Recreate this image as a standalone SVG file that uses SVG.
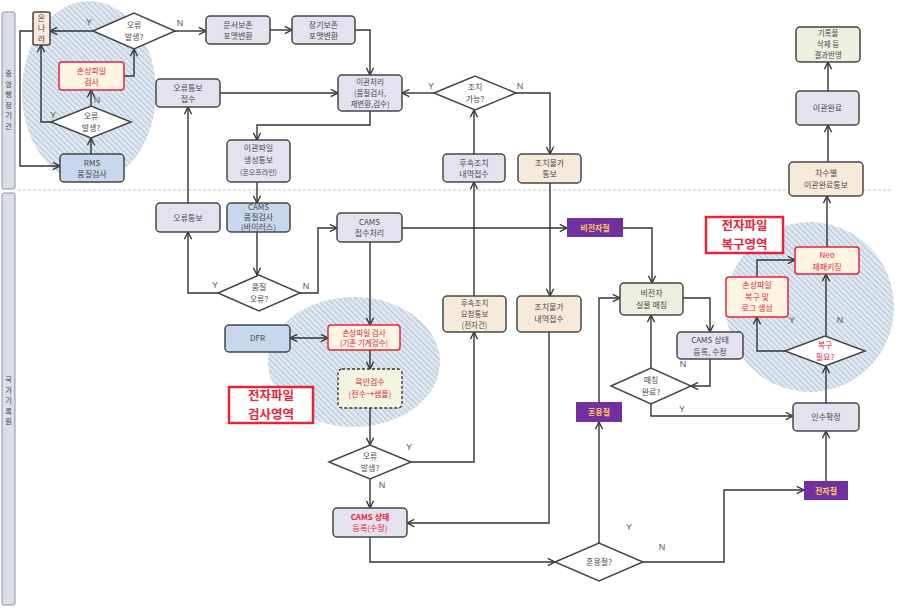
<svg xmlns="http://www.w3.org/2000/svg" width="904" height="609" viewBox="0 0 904 609">
<style>
.t{font-family:"Noto Sans CJK KR","Noto Sans",sans-serif;font-size:8px;fill:#4a4a4a;text-anchor:middle}
.s{font-size:7.5px}
.r{fill:#e4243a}
.yn{font-family:"Liberation Sans",sans-serif;font-size:9px;fill:#555;text-anchor:middle}
.b{stroke:#454545;stroke-width:1.5}
.lav{fill:#e5e2ef}
.bei{fill:#f8eadb}
.blu{fill:#c6d7ee}
.grn{fill:#eaefdf}
.red{fill:#fdf5e2;stroke:#e4243a;stroke-width:1.5}
.pur{fill:#7030a0}
.pt{font-family:"Noto Sans CJK KR",sans-serif;font-size:8px;font-weight:bold;fill:#ffc95a;text-anchor:middle}
.dia{fill:#ffffff;stroke:#454545;stroke-width:1.5}
.big{font-family:"Noto Sans CJK KR",sans-serif;font-size:12.5px;font-weight:bold;fill:#e4243a;text-anchor:middle}
.lane{fill:#dcdde6;stroke:#8b93ad;stroke-width:1}
.lt{font-family:"Noto Sans CJK KR",sans-serif;font-size:7.2px;fill:#444;text-anchor:middle}
#connectors path{fill:none;stroke:#333;stroke-width:1.4}
</style>
<defs>
<marker id="a" viewBox="0 0 10 10" refX="9" refY="5" markerWidth="9" markerHeight="9" orient="auto-start-reverse" markerUnits="userSpaceOnUse">
<path d="M1,1 L9,5 L1,9" fill="none" stroke="#333" stroke-width="1.5"/>
</marker>
<pattern id="hatch" width="4" height="4" patternUnits="userSpaceOnUse" patternTransform="rotate(-45)">
<rect width="4" height="4" fill="#dfe7f1"/>
<line x1="0" y1="0" x2="0" y2="4" stroke="#9db2cb" stroke-width="1.3"/>
</pattern>
</defs>
<rect width="904" height="609" fill="#ffffff"/>

<g id="lanes">
<rect class="lane" x="2" y="12" width="13" height="177" rx="2"/>
<text class="lt"><tspan x="8.5" y="76">중</tspan><tspan x="8.5" y="86.5">앙</tspan><tspan x="8.5" y="97">행</tspan><tspan x="8.5" y="107.5">정</tspan><tspan x="8.5" y="118">기</tspan><tspan x="8.5" y="128.5">관</tspan></text>
<rect class="lane" x="2" y="193" width="13" height="412" rx="2"/>
<text class="lt"><tspan x="8.5" y="382">국</tspan><tspan x="8.5" y="392.5">가</tspan><tspan x="8.5" y="403">기</tspan><tspan x="8.5" y="413.5">록</tspan><tspan x="8.5" y="424">원</tspan></text>
<line x1="18" y1="190" x2="892" y2="190" stroke="#c4c4c4" stroke-width="1" stroke-dasharray="3,2"/>
</g>

<g id="areas">
<ellipse cx="89" cy="92" rx="67" ry="91" fill="url(#hatch)"/>
<ellipse cx="354" cy="362" rx="86" ry="65" fill="url(#hatch)"/>
<ellipse cx="810" cy="307" rx="84" ry="85" fill="url(#hatch)"/>
</g>

<g id="connectors">
<path d="M93,31 L50,31" marker-end="url(#a)"/>
<path d="M175,31 L206,31" marker-end="url(#a)"/>
<path d="M124,76 L134,76 L134,49" marker-end="url(#a)"/>
<path d="M91,106 L91,90" marker-end="url(#a)"/>
<path d="M51,122 L41,122 L41,45" marker-end="url(#a)"/>
<path d="M33,31 L20,31 L20,166 L60,166" marker-end="url(#a)"/>
<path d="M91,154 L91,138" marker-end="url(#a)"/>
<path d="M270,30 L292,30" marker-end="url(#a)"/>
<path d="M355,30 L370,30 L370,75" marker-end="url(#a)"/>
<path d="M220,93 L338,93" marker-end="url(#a)"/>
<path d="M370,111 L370,125 L257,125 L257,140" marker-end="url(#a)"/>
<path d="M257,182 L257,203" marker-end="url(#a)"/>
<path d="M434,93 L402,93" marker-end="url(#a)"/>
<path d="M516,93 L550,93 L550,154" marker-end="url(#a)"/>
<path d="M474,154 L474,110" marker-end="url(#a)"/>
<path d="M474,296 L474,182" marker-end="url(#a)"/>
<path d="M550,183 L550,296" marker-end="url(#a)"/>
<path d="M828,162 L828,125" marker-end="url(#a)"/>
<path d="M828,91 L828,62" marker-end="url(#a)"/>
<path d="M188,203 L188,107" marker-end="url(#a)"/>
<path d="M257,232 L257,275" marker-end="url(#a)"/>
<path d="M218,293 L188,293 L188,232" marker-end="url(#a)"/>
<path d="M300,293 L318,293 L318,228 L337,228" marker-end="url(#a)"/>
<path d="M402,228 L567,228" marker-end="url(#a)"/>
<path d="M623,228 L652,228 L652,283" marker-end="url(#a)"/>
<path d="M370,242 L370,325" marker-end="url(#a)"/>
<path d="M290,338 L328,338" marker-start="url(#a)" marker-end="url(#a)"/>
<path d="M370,350 L370,369" marker-end="url(#a)"/>
<path d="M370,408 L370,445" marker-end="url(#a)"/>
<path d="M411,462 L474,462 L474,332" marker-end="url(#a)"/>
<path d="M370,479 L370,508" marker-end="url(#a)"/>
<path d="M549,332 L549,523 L407,523" marker-end="url(#a)"/>
<path d="M370,537 L370,562 L555,562" marker-end="url(#a)"/>
<path d="M599,543 L599,422" marker-end="url(#a)"/>
<path d="M599,402 L599,298 L620,298" marker-end="url(#a)"/>
<path d="M683,298 L710,298 L710,332" marker-end="url(#a)"/>
<path d="M710,359 L710,386 L691,386" marker-end="url(#a)"/>
<path d="M651,368 L651,315" marker-end="url(#a)"/>
<path d="M651,404 L651,416 L793,416" marker-end="url(#a)"/>
<path d="M643,562 L724,562 L724,490 L804,490" marker-end="url(#a)"/>
<path d="M826,481 L826,431" marker-end="url(#a)"/>
<path d="M826,403 L826,366" marker-end="url(#a)"/>
<path d="M785,351 L757,351 L757,317" marker-end="url(#a)"/>
<path d="M826,336 L826,274" marker-end="url(#a)"/>
<path d="M757,277 L757,260 L795,260" marker-end="url(#a)"/>
<path d="M827,247 L827,196" marker-end="url(#a)"/>
<text class="yn" x="89" y="25">Y</text>
<text class="yn" x="180" y="26">N</text>
<text class="yn" x="97" y="103" font-size="7">N</text>
<text class="yn" x="53" y="118">Y</text>
<text class="yn" x="431" y="89">Y</text>
<text class="yn" x="520" y="89">N</text>
<text class="yn" x="215" y="288">Y</text>
<text class="yn" x="306" y="289">N</text>
<text class="yn" x="409" y="450">Y</text>
<text class="yn" x="382" y="488">N</text>
<text class="yn" x="629" y="530">Y</text>
<text class="yn" x="662" y="550">N</text>
<text class="yn" x="683" y="367">N</text>
<text class="yn" x="682" y="412">Y</text>
<text class="yn" x="792" y="323">Y</text>
<text class="yn" x="840" y="323">N</text>
</g>

<g id="onnara"><rect class="b bei" x="33" y="12" width="17" height="33" rx="2"/><text class="t" font-size="7.2"><tspan x="41.5" y="20.5">온</tspan><tspan x="41.5" y="31">나</tspan><tspan x="41.5" y="41.5">라</tspan></text></g>
<g id="d_err1"><polygon class="dia" points="93,31 134,13 175,31 134,49"/><text class="t"><tspan x="134" y="28">오류</tspan><tspan x="134" y="39.6">발생?</tspan></text></g>
<g id="chk1"><rect class="red" x="59" y="62" width="65" height="28" rx="3"/><text class="t r"><tspan x="91.5" y="73.5">손상파일</tspan><tspan x="91.5" y="85">검사</tspan></text></g>
<g id="d_err2"><polygon class="dia" points="51,122 91,106 131,122 91,138"/><text class="t"><tspan x="91" y="119">오류</tspan><tspan x="91" y="130.6">발생?</tspan></text></g>
<g id="rms"><rect class="b blu" x="60" y="154" width="64" height="28" rx="4"/><text class="t"><tspan x="92" y="165.5">RMS</tspan><tspan x="92" y="177">품질검사</tspan></text></g>
<g id="fmt1"><rect class="b lav" x="206" y="16" width="64" height="28" rx="4"/><text class="t"><tspan x="238" y="27.5">문서보존</tspan><tspan x="238" y="39">포맷변환</tspan></text></g>
<g id="fmt2"><rect class="b lav" x="292" y="16" width="63" height="28" rx="4"/><text class="t"><tspan x="323.5" y="27.5">장기보존</tspan><tspan x="323.5" y="39">포맷변환</tspan></text></g>
<g id="proc"><rect class="b lav" x="338" y="75" width="64" height="36" rx="4"/><text class="t s"><tspan x="370" y="84.7">이관처리</tspan><tspan x="370" y="95.6">(품질검사,</tspan><tspan x="370" y="106.5">재변환,검수)</tspan></text></g>
<g id="errrecv"><rect class="b lav" x="156" y="79" width="64" height="28" rx="4"/><text class="t"><tspan x="188" y="90.5">오류통보</tspan><tspan x="188" y="102">접수</tspan></text></g>
<g id="gen"><rect class="b lav" x="227" y="140" width="63" height="42" rx="4"/><text class="t"><tspan x="258.5" y="151.4">이관파일</tspan><tspan x="258.5" y="163">생성통보</tspan><tspan x="258.5" y="174.6" font-size="7">(온오프라인)</tspan></text></g>
<g id="d_act"><polygon class="dia" points="434,93 475,76 516,93 475,110"/><text class="t"><tspan x="475" y="90">조치</tspan><tspan x="475" y="101.6">가능?</tspan></text></g>
<g id="follow1"><rect class="b lav" x="443" y="154" width="62" height="28" rx="4"/><text class="t"><tspan x="474" y="165.5">후속조치</tspan><tspan x="474" y="177">내역접수</tspan></text></g>
<g id="noact"><rect class="b bei" x="518" y="154" width="63" height="29" rx="4"/><text class="t"><tspan x="549.5" y="165.5">조치불가</tspan><tspan x="549.5" y="177">통보</tspan></text></g>
<g id="result"><rect class="b grn" x="796" y="27" width="64" height="35" rx="4"/><text class="t s"><tspan x="828" y="36.2">기록물</tspan><tspan x="828" y="47.1">삭제 등</tspan><tspan x="828" y="58">결과반영</tspan></text></g>
<g id="done"><rect class="b lav" x="796" y="91" width="63" height="34" rx="4"/><text class="t"><tspan x="827.5" y="111">이관완료</tspan></text></g>
<g id="notice"><rect class="b bei" x="789" y="162" width="74" height="34" rx="4"/><text class="t"><tspan x="826" y="176">차수별</tspan><tspan x="826" y="187.5">이관완료통보</tspan></text></g>
<g id="errnote"><rect class="b lav" x="156" y="203" width="64" height="29" rx="4"/><text class="t"><tspan x="188" y="220.5">오류통보</tspan></text></g>
<g id="camsq"><rect class="b blu" x="227" y="203" width="63" height="29" rx="4"/><text class="t" font-size="7"><tspan x="258.5" y="210">CAMS</tspan><tspan x="258.5" y="220.2">품질검사</tspan><tspan x="258.5" y="230.4">(바이러스)</tspan></text></g>
<g id="d_q"><polygon class="dia" points="218,293 259,275 300,293 259,311"/><text class="t"><tspan x="259" y="290">품질</tspan><tspan x="259" y="301.6">오류?</tspan></text></g>
<g id="camsr"><rect class="b lav" x="337" y="213" width="65" height="29" rx="4"/><text class="t"><tspan x="369.5" y="224.5">CAMS</tspan><tspan x="369.5" y="236">접수처리</tspan></text></g>
<g id="nonelec"><rect class="pur" x="567" y="218" width="56" height="19"/><text class="pt" x="595" y="231">비전자철</text></g>
<g id="match"><rect class="b grn" x="620" y="283" width="63" height="32" rx="4"/><text class="t"><tspan x="651.5" y="296">비전자</tspan><tspan x="651.5" y="307.5">실물 매칭</tspan></text></g>
<g id="dfr"><rect class="b blu" x="225" y="325" width="65" height="27" rx="4"/><text class="t" x="257.5" y="341">DFR</text></g>
<g id="chk2"><rect class="red" x="328" y="325" width="72" height="25" rx="3"/><text class="t r s"><tspan x="364" y="335.5">손상파일 검사</tspan><tspan x="364" y="346.4">(기존 기계검수)</tspan></text></g>
<g id="eye"><rect x="338" y="369" width="64" height="39" rx="4" fill="#f3f4df" stroke="#333" stroke-width="1.3" stroke-dasharray="3,2"/><text class="t r"><tspan x="370" y="385">육안검수</tspan><tspan x="370" y="397">(전수→샘플)</tspan></text></g>
<g id="lbl1"><rect x="229" y="387" width="84" height="36" fill="#ffffff" stroke="#e4243a" stroke-width="2.5"/><text class="big"><tspan x="271" y="400.3">전자파일</tspan><tspan x="271" y="418.5">검사영역</tspan></text></g>
<g id="d_err3"><polygon class="dia" points="329,462 370,445 411,462 370,479"/><text class="t"><tspan x="370" y="459">오류</tspan><tspan x="370" y="470.6">발생?</tspan></text></g>
<g id="camsst"><rect class="b lav" x="333" y="508" width="74" height="29" rx="4"/><text class="t r"><tspan x="370" y="519.5" font-weight="bold">CAMS 상태</tspan><tspan x="370" y="531">등록(수정)</tspan></text></g>
<g id="follow2"><rect class="b bei" x="443" y="296" width="63" height="36" rx="4"/><text class="t s"><tspan x="474.5" y="305.7">후속조치</tspan><tspan x="474.5" y="316.6">요청통보</tspan><tspan x="474.5" y="327.5">(전자건)</tspan></text></g>
<g id="noact2"><rect class="b bei" x="517" y="296" width="64" height="36" rx="4"/><text class="t"><tspan x="549" y="310">조치불가</tspan><tspan x="549" y="321.6">내역접수</tspan></text></g>
<g id="d_mix"><polygon class="dia" points="555,562 599,543 643,562 599,581"/><text class="t" x="599" y="565">혼용철?</text></g>
<g id="mix"><rect class="pur" x="576" y="402" width="46" height="20"/><text class="pt" x="599" y="415">혼용철</text></g>
<g id="camsst2"><rect class="b lav" x="677" y="332" width="66" height="27" rx="4"/><text class="t"><tspan x="710" y="343">CAMS 상태</tspan><tspan x="710" y="354.6">등록, 수정</tspan></text></g>
<g id="d_match"><polygon class="dia" points="611,386 651,368 691,386 651,404"/><text class="t"><tspan x="651" y="383">매칭</tspan><tspan x="651" y="394.6">완료?</tspan></text></g>
<g id="accept"><rect class="b lav" x="793" y="403" width="66" height="28" rx="4"/><text class="t" x="826" y="420">인수확정</text></g>
<g id="elec"><rect class="pur" x="804" y="481" width="44" height="19"/><text class="pt" x="826" y="494">전자철</text></g>
<g id="d_rec"><polygon class="dia" points="785,351 825,336 865,351 825,366"/><text class="t r"><tspan x="825" y="348">복구</tspan><tspan x="825" y="359.6">필요?</tspan></text></g>
<g id="repair"><rect class="red" x="726" y="277" width="62" height="40" rx="3"/><text class="t r"><tspan x="757" y="288.2">손상파일</tspan><tspan x="757" y="299.8">복구 및</tspan><tspan x="757" y="311.4">로그 생성</tspan></text></g>
<g id="neo"><rect class="red" x="795" y="247" width="64" height="27" rx="3"/><text class="t r"><tspan x="827" y="258">Neo</tspan><tspan x="827" y="269.6">재패키징</tspan></text></g>
<g id="lbl2"><rect x="706" y="217" width="77" height="36" fill="#ffffff" stroke="#e4243a" stroke-width="2.5"/><text class="big"><tspan x="744.5" y="230.3">전자파일</tspan><tspan x="744.5" y="248.5">복구영역</tspan></text></g>
</svg>
